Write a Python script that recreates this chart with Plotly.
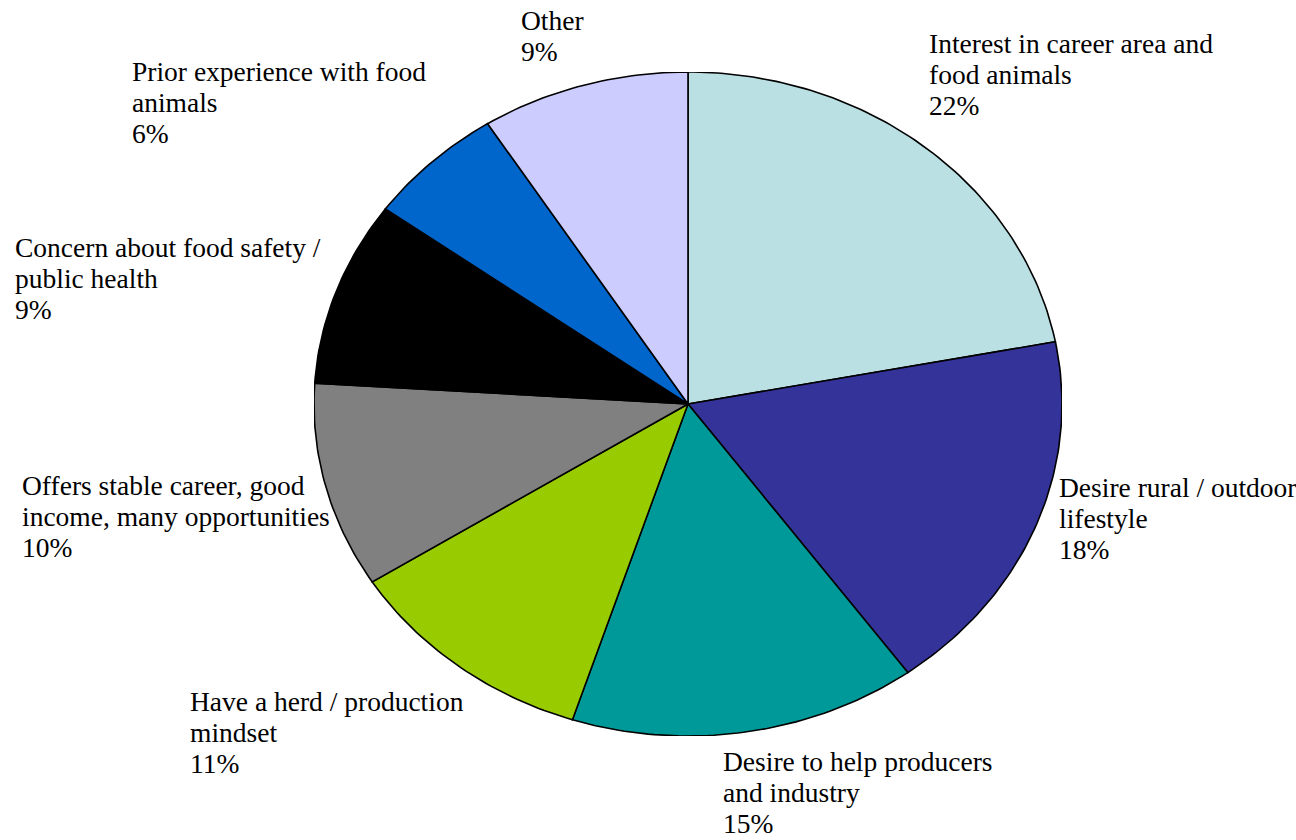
import numpy as np
import plotly.graph_objects as go

# ---- data ----
categories = [
    "Interest in career area and<br>food animals",
    "Desire rural / outdoor<br>lifestyle",
    "Desire to help producers<br>and industry",
    "Have a herd / production<br>mindset",
    "Offers stable career, good<br>income, many opportunities",
    "Concern about food safety /<br>public health",
    "Prior experience with food<br>animals",
    "Other",
]
values = [22, 18, 15, 11, 10, 9, 6, 9]
colors = ["#BAE0E3", "#333399", "#009999", "#99CC00",
          "#808080", "#000000", "#0066CC", "#CCCCFF"]

# ---- layout / label placement (pixel positions: left x, first-line baseline y) ----
W, H = 1296, 840
pie_left, pie_right, pie_top, pie_bottom = 314, 1062, 72, 736
label_pos = [
    (928, 54),
    (1058, 498),
    (722, 772),
    (189, 712),
    (21, 496),
    (14, 258),
    (131, 82),
    (520, 31),
]
line_step = 31
font_size = 27.5
font_family = "Liberation Serif, Times New Roman, serif"

fig = go.Figure()

total = float(sum(values))
start = 0.0
for cat, v, c in zip(categories, values, colors):
    a0 = start / total * 2 * np.pi
    a1 = (start + v) / total * 2 * np.pi
    n = max(int((a1 - a0) / (2 * np.pi) * 400), 8)
    th = np.linspace(a0, a1, n)
    xs = np.concatenate([[0.0], np.sin(th), [0.0]])
    ys = np.concatenate([[0.0], np.cos(th), [0.0]])
    fig.add_trace(go.Scatter(
        x=xs, y=ys, mode="lines", fill="toself", fillcolor=c,
        line=dict(color="black", width=1.6), hoverinfo="skip",
        showlegend=False, name=cat.replace("<br>", " "),
    ))
    start += v

annotations = []
for cat, v, (lx, by) in zip(categories, values, label_pos):
    lines = cat.split("<br>") + [f"{v}%"]
    for i, t in enumerate(lines):
        base = by + i * line_step
        annotations.append(dict(
            text=t, xref="paper", yref="paper",
            x=lx / W, y=1 - (base + 6) / H,
            xanchor="left", yanchor="bottom", showarrow=False,
            font=dict(family=font_family, size=font_size, color="black"),
            borderpad=0,
        ))

fig.update_layout(
    width=W, height=H,
    margin=dict(l=0, r=0, t=0, b=0),
    paper_bgcolor="white", plot_bgcolor="white",
    xaxis=dict(domain=[pie_left / W, pie_right / W], range=[-1, 1],
               visible=False, fixedrange=True),
    yaxis=dict(domain=[1 - pie_bottom / H, 1 - pie_top / H], range=[-1, 1],
               visible=False, fixedrange=True),
    annotations=annotations,
)

fig.write_html(
    "out.html",
    config={"displayModeBar": False},
    post_script="document.body.style.margin='0';document.body.style.overflow='hidden';",
)
